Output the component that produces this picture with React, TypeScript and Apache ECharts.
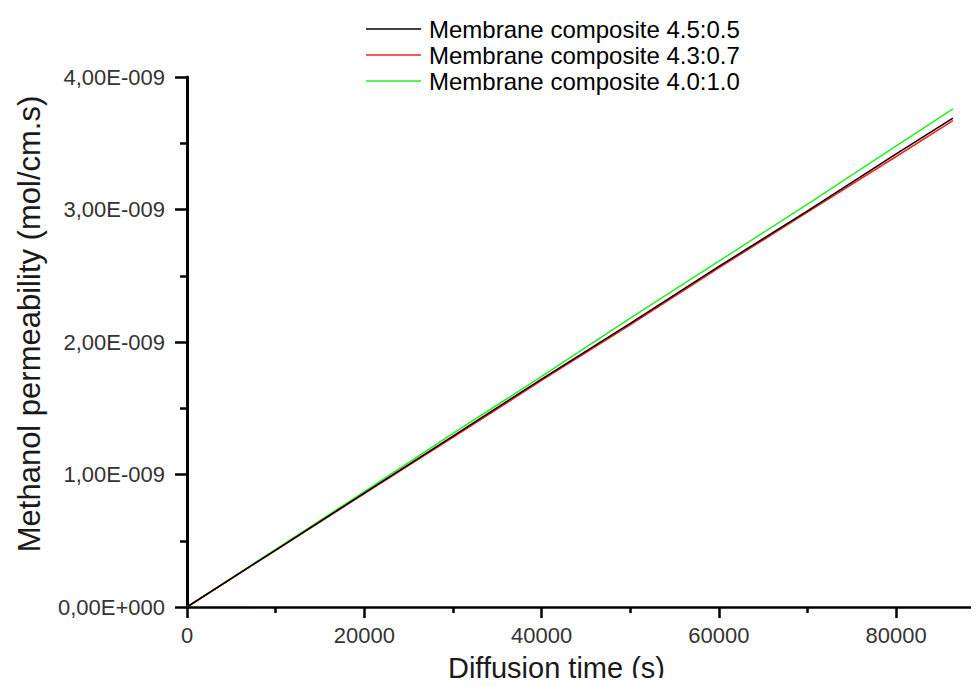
import React, { useEffect, useRef } from "react";
import * as echarts from "echarts";

const timeSeconds = [0, 10000, 20000, 30000, 40000, 50000, 60000, 70000, 80000, 86400];
const membrane45 = [0, 0.43, 0.86, 1.29, 1.72, 2.14, 2.57, 2.99, 3.42, 3.69];
const membrane43 = [0, 0.428, 0.855, 1.28, 1.71, 2.13, 2.56, 2.98, 3.4, 3.67];
const membrane40 = [0, 0.435, 0.87, 1.31, 1.74, 2.18, 2.61, 3.04, 3.48, 3.76];
const seriesNames = [
  "Membrane composite 4.5:0.5",
  "Membrane composite 4.3:0.7",
  "Membrane composite 4.0:1.0",
];
const seriesColors = ["#000000", "#ff2020", "#22ee22"];
const scale = 1e-9;

function fmtY(v: number): string {
  if (v === 0) return "0,00E+000";
  return (v / scale).toFixed(2).replace(".", ",") + "E-009";
}

export default function App() {
  const ref = useRef<HTMLDivElement>(null);
  useEffect(() => {
    if (!ref.current) return;
    const chart = echarts.init(ref.current, null, { renderer: "svg" });
    const all = [membrane45, membrane43, membrane40];
    const font = "'Liberation Sans', Arial, sans-serif";
    chart.setOption({
      animation: false,
      backgroundColor: "#ffffff",
      grid: {
        left: 187,
        top: 77,
        width: 789,
        bottom: 79,
        containLabel: false,
        outerBoundsMode: "none",
      },
      legend: {
        orient: "vertical",
        left: 361,
        top: 12,
        icon: "rect",
        itemWidth: 55,
        itemHeight: 1.5,
        itemGap: 2,
        textStyle: { fontFamily: font, fontSize: 24, color: "#000", padding: [0, 0, 0, 3] },
        data: seriesNames,
      },
      xAxis: {
        type: "value",
        min: 0,
        max: 89000,
        interval: 20000,
        name: "Diffusion time (s)",
        nameLocation: "middle",
        nameGap: 45,
        nameTextStyle: {
          fontFamily: font,
          fontSize: 29,
          lineHeight: 31,
          color: "#1a1a1a",
          padding: [0, 50, 0, 0],
        },
        axisLine: { show: true, onZero: false, lineStyle: { color: "#000", width: 2.5 } },
        axisTick: { show: true, inside: false, length: 11, lineStyle: { color: "#000", width: 2.5 } },
        minorTick: { show: true, splitNumber: 2, length: 6, lineStyle: { color: "#000", width: 2.5 } },
        axisLabel: {
          fontFamily: font,
          fontSize: 22,
          color: "#333",
          margin: 17,
          showMaxLabel: false,
          formatter: (v: number) => String(v),
        },
        splitLine: { show: false },
      },
      yAxis: {
        type: "value",
        min: 0,
        max: 4e-9,
        interval: 1e-9,
        name: "Methanol permeability (mol/cm.s)",
        nameLocation: "middle",
        nameGap: 142,
        nameRotate: 90,
        nameTextStyle: { fontFamily: font, fontSize: 31, color: "#1a1a1a", padding: [0, 0, 0, 36] },
        axisLine: { show: true, lineStyle: { color: "#000", width: 3 } },
        axisTick: { show: true, inside: false, length: 12, lineStyle: { color: "#000", width: 2.5 } },
        minorTick: { show: true, splitNumber: 2, length: 7, lineStyle: { color: "#000", width: 2.5 } },
        axisLabel: {
          fontFamily: font,
          fontSize: 22,
          color: "#333",
          margin: 22,
          formatter: fmtY,
        },
        splitLine: { show: false },
      },
      series: all.map((vals, i) => ({
        name: seriesNames[i],
        type: "line",
        symbol: "none",
        showSymbol: false,
        lineStyle: { color: seriesColors[i], width: 1.5 },
        itemStyle: { color: seriesColors[i] },
        z: 3 - i,
        data: timeSeconds.map((t, j) => [t, vals[j] * scale]),
      })),
    });
    return () => chart.dispose();
  }, []);
  return <div ref={ref} style={{ width: 979, height: 686, margin: -8 }} />;
}
